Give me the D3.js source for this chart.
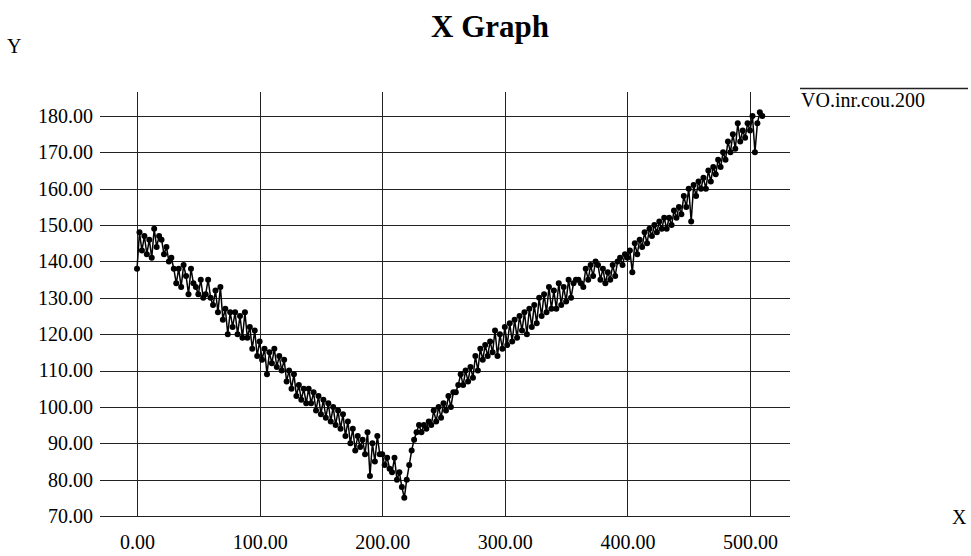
<!DOCTYPE html>
<html>
<head>
<meta charset="utf-8">
<script src="https://cdn.jsdelivr.net/npm/d3@7"></script>
<style>
  html, body { margin: 0; padding: 0; background: #fff; }
  svg { display: block; font-family: "Liberation Serif", "DejaVu Serif", serif; }
</style>
</head>
<body>
<svg id="chart" width="971" height="556"></svg>
<script>
// ---- data ----
const seriesName = "VO.inr.cou.200";
const xStep = 2;
const yValues = [
  138, 148, 143, 147, 142, 146, 141, 149, 144, 147,
  146, 142, 144, 140, 141, 138, 134, 138, 133, 139,
  136, 131, 138, 134, 133, 131, 135, 130, 131, 135,
  130, 128, 132, 126, 133, 124, 127, 120, 126, 122,
  126, 120, 125, 119, 126, 119, 122, 116, 121, 114,
  118, 113, 116, 109, 115, 112, 116, 111, 114, 110,
  113, 107, 110, 105, 109, 103, 106, 102, 105, 101,
  105, 101, 104, 99, 103, 98, 102, 97, 101, 96,
  100, 95, 99, 94, 98, 92, 96, 90, 94, 88,
  92, 89, 91, 87, 93, 81, 90, 85, 92, 87,
  87, 84, 86, 83, 82, 86, 80, 82, 78, 75,
  80, 84, 88, 91, 93, 95, 93, 95, 94, 96,
  95, 99, 96, 100, 97, 101, 99, 103, 100, 104,
  104, 106, 109, 106, 110, 107, 111, 108, 114, 110,
  116, 113, 117, 114, 118, 115, 121, 114, 120, 116,
  122, 117, 123, 118, 124, 119, 125, 121, 126, 120,
  127, 122, 128, 123, 130, 125, 131, 126, 133, 127,
  132, 127, 134, 128, 133, 129, 135, 130, 134, 135,
  135, 134, 133, 138, 135, 139, 136, 140, 139, 135,
  138, 134, 137, 135, 139, 136, 140, 141, 139, 142,
  141, 143, 137, 145, 142, 146, 144, 148, 145, 149,
  147, 150, 148, 151, 149, 152, 149, 152, 150, 154,
  152, 155, 153, 158, 155, 160, 151, 161, 158, 162,
  160, 163, 160, 165, 162, 166, 164, 168, 166, 170,
  168, 173, 170, 175, 171, 178, 173, 176, 174, 178,
  176, 180, 170, 178, 181, 180
];
const xValues = yValues.map((_, i) => i * xStep);
const xTicks = [0, 100, 200, 300, 400, 500];
const yTicks = [70, 80, 90, 100, 110, 120, 130, 140, 150, 160, 170, 180];
const titleText = "X Graph";
const xLabel = "X";
const yLabel = "Y";

// ---- layout ----
const svg = d3.select("#chart");
const plot = { left: 100, right: 790, top: 92, bottom: 516 };

const x = d3.scaleLinear().domain([-30.2, 532.6]).range([plot.left, plot.right]);
const y = d3.scaleLinear().domain([70, 186.6]).range([plot.bottom, plot.top]);

// grid: horizontal
svg.append("g")
  .selectAll("line")
  .data(yTicks)
  .join("line")
  .attr("x1", plot.left).attr("x2", plot.right)
  .attr("y1", d => Math.round(y(d)) + 0.5).attr("y2", d => Math.round(y(d)) + 0.5)
  .attr("stroke", "#222").attr("stroke-width", 1);

// grid: vertical
svg.append("g")
  .selectAll("line")
  .data(xTicks)
  .join("line")
  .attr("x1", d => Math.round(x(d)) + 0.5).attr("x2", d => Math.round(x(d)) + 0.5)
  .attr("y1", plot.top).attr("y2", plot.bottom)
  .attr("stroke", "#222").attr("stroke-width", 1);

// axes (labels only, via d3 axis)
const yAxis = d3.axisLeft(y).tickValues(yTicks).tickFormat(d3.format(".2f")).tickSize(0).tickPadding(7);
const gy = svg.append("g").attr("transform", `translate(${plot.left},0)`).call(yAxis);
gy.select(".domain").remove();
gy.selectAll("text").attr("font-family", "Liberation Serif").attr("font-size", 20).attr("fill", "#000");

const xAxis = d3.axisBottom(x).tickValues(xTicks).tickFormat(d3.format(".2f")).tickSize(0).tickPadding(19);
const gx = svg.append("g").attr("transform", `translate(0,${plot.bottom})`).call(xAxis);
gx.select(".domain").remove();
gx.selectAll("text").attr("font-family", "Liberation Serif").attr("font-size", 20).attr("fill", "#000");

// data line
const pts = xValues.map((d, i) => [d, yValues[i]]);
svg.append("path")
  .datum(pts)
  .attr("fill", "none")
  .attr("stroke", "#000")
  .attr("stroke-width", 1.5)
  .attr("d", d3.line().x(d => x(d[0])).y(d => y(d[1])));

svg.append("g")
  .selectAll("circle")
  .data(pts)
  .join("circle")
  .attr("cx", d => x(d[0]))
  .attr("cy", d => y(d[1]))
  .attr("r", 3)
  .attr("fill", "#000");

// title & axis labels
svg.append("text").attr("x", 490).attr("y", 37).attr("text-anchor", "middle")
  .attr("font-size", 31).attr("font-weight", "bold").text(titleText);
svg.append("text").attr("x", 7).attr("y", 53).attr("font-size", 20).text(yLabel);
svg.append("text").attr("x", 952).attr("y", 524).attr("font-size", 20).text(xLabel);

// legend
svg.append("line").attr("x1", 800).attr("x2", 968).attr("y1", 88.5).attr("y2", 88.5)
  .attr("stroke", "#222").attr("stroke-width", 1.5);
svg.append("text").attr("x", 801).attr("y", 107).attr("font-size", 20).text(seriesName);
</script>
</body>
</html>
